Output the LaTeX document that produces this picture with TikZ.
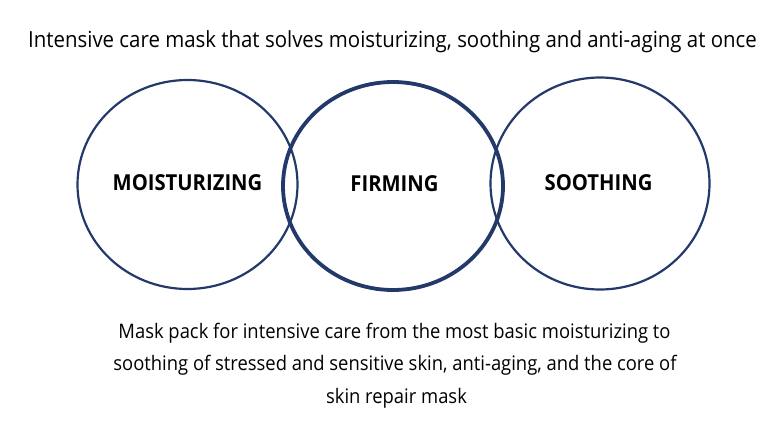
\documentclass[tikz,border=0pt]{standalone}
\usepackage{fontspec}
\setmainfont{Open Sans}[FakeStretch=0.92]
\definecolor{navy}{HTML}{22396A}
\begin{document}
\begin{tikzpicture}[x=1pt,y=-1pt,
  ring/.style={draw=navy,line width=2.2pt},
  thickring/.style={draw=navy,line width=3.8pt},
  lbl/.style={font=\fontsize{22}{26}\selectfont\bfseries,text=black,anchor=base,inner sep=0pt},
  ttl/.style={font=\fontsize{22.2}{26}\selectfont,text=black,anchor=base,inner sep=0pt},
  txt/.style={font=\fontsize{20}{23}\selectfont,text=black,anchor=base,inner sep=0pt}]
\useasboundingbox (0,0) rectangle (775,431);
\draw[ring] (187.5,184.5) ellipse [x radius=110, y radius=104.5];
\draw[ring] (600,183.5) ellipse [x radius=109.5, y radius=106];
\draw[thickring] (393,186) ellipse [x radius=110, y radius=104];
\node[lbl] (m) at (187.5,190) {MOISTURIZING};
\node[lbl] (f) at (394.5,191) {FIRMING};
\node[lbl] (s) at (598.5,190) {SOOTHING};
\node[ttl] (t) at (392.5,47.3) {Intensive care mask that solves moisturizing, soothing and anti-aging at once};
\node[txt] (b1) at (394.5,338.3) {Mask pack for intensive care from the most basic moisturizing to};
\node[txt] (b2) at (395,370.5) {soothing of stressed and sensitive skin, anti-aging, and the core of};
\node[txt] (b3) at (396.5,403) {skin repair mask};
\end{tikzpicture}
\end{document}
